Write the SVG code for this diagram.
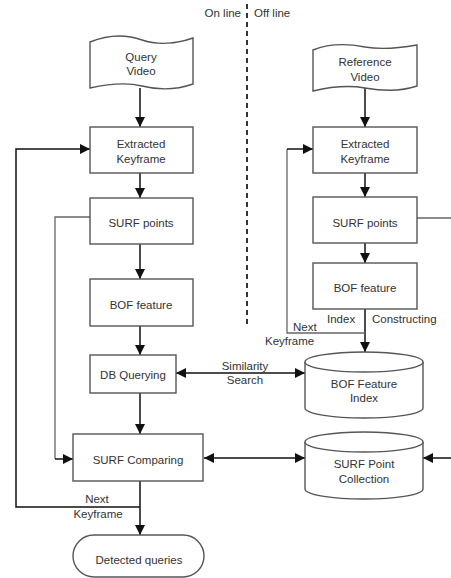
<svg xmlns="http://www.w3.org/2000/svg" width="451" height="578" viewBox="0 0 451 578">
<defs>
<style>
.box{fill:#fff;stroke:#555;stroke-width:1.4}
.thin{fill:none;stroke:#666;stroke-width:1.3}
.arr{fill:none;stroke:#111;stroke-width:1.5;marker-end:url(#ah)}
.t{font-family:"Liberation Sans",Arial,sans-serif;font-size:11.5px;fill:#333;text-anchor:middle}
.l{font-family:"Liberation Sans",Arial,sans-serif;font-size:11.5px;fill:#333}
</style>
<marker id="ah" viewBox="0 0 10 10" refX="10" refY="5" markerWidth="10" markerHeight="10" markerUnits="userSpaceOnUse" orient="auto-start-reverse">
<path d="M0,0 L10,5 L0,10 Z" fill="#111"/>
</marker>
</defs>
<rect width="451" height="578" fill="#fff"/>

<g id="divider">
<line x1="247" y1="4" x2="247" y2="325" stroke="#333" stroke-width="2" stroke-dasharray="5,4"/>
<text class="l" x="241" y="17" text-anchor="end">On line</text>
<text class="l" x="254" y="17">Off line</text>
</g>

<g id="connectors">
<line class="arr" x1="140" y1="88" x2="140" y2="127"/>
<line class="arr" x1="140" y1="173" x2="140" y2="198"/>
<line class="arr" x1="140" y1="244" x2="140" y2="279"/>
<line class="arr" x1="140" y1="326" x2="140" y2="355"/>
<line class="arr" x1="140" y1="393" x2="140" y2="434"/>
<line class="arr" x1="140" y1="481" x2="140" y2="535"/>
<polyline class="arr" points="140,507 16,507 16,149 90,149"/>
<polyline class="thin" points="90,217 55,217 55,459"/>
<line class="arr" x1="55" y1="459" x2="73" y2="459"/>
<line class="arr" x1="176" y1="373" x2="305" y2="373" style="marker-start:url(#ah)"/>
<line class="arr" x1="204" y1="458" x2="305" y2="458" style="marker-start:url(#ah)"/>
<line class="arr" x1="365" y1="88" x2="365" y2="127"/>
<line class="arr" x1="365" y1="173" x2="365" y2="197"/>
<line class="arr" x1="365" y1="243" x2="365" y2="263"/>
<line class="arr" x1="365" y1="309" x2="365" y2="352"/>
<polyline class="thin" points="365,333 287,333 287,149"/>
<line class="arr" x1="287" y1="149" x2="313" y2="149"/>
<line class="thin" x1="417" y1="218" x2="451" y2="218"/>
<line class="arr" x1="451" y1="458" x2="423" y2="458"/>
<text class="t" x="97" y="503">Next</text>
<text class="t" x="98" y="518">Keyframe</text>
<text class="t" x="245" y="370">Similarity</text>
<text class="t" x="245" y="384">Search</text>
<text class="l" x="327" y="323">Index</text>
<text class="l" x="372" y="323">Constructing</text>
<text class="l" x="293" y="331">Next</text>
<text class="l" x="265" y="345">Keyframe</text>
</g>

<g id="query-video">
<path class="box" d="M90,42 C110,34 128,35 142,40 C157,45 176,44 193,38 L193,84 C176,90 158,90 142,86 C126,82 108,84 90,88 Z"/>
<text class="t" x="141" y="61">Query</text>
<text class="t" x="141" y="75">Video</text>
</g>
<g id="extracted-keyframe-q">
<rect class="box" x="90" y="127" width="103" height="46"/>
<text class="t" x="141" y="148">Extracted</text>
<text class="t" x="141" y="163">Keyframe</text>
</g>
<g id="surf-points-q">
<rect class="box" x="90" y="198" width="103" height="46"/>
<text class="t" x="141" y="227">SURF points</text>
</g>
<g id="bof-feature-q">
<rect class="box" x="90" y="279" width="103" height="47"/>
<text class="t" x="141" y="309">BOF feature</text>
</g>
<g id="db-querying">
<rect class="box" x="90" y="355" width="86" height="38"/>
<text class="t" x="133" y="379">DB Querying</text>
</g>
<g id="surf-comparing">
<rect class="box" x="73" y="434" width="130" height="47"/>
<text class="t" x="138" y="464">SURF Comparing</text>
</g>
<g id="detected-queries">
<rect class="box" x="73" y="535" width="131" height="42" rx="21"/>
<text class="t" x="139" y="564">Detected queries</text>
</g>

<g id="reference-video">
<path class="box" d="M313,50 C330,43 350,44 365,47 C382,50 400,48 417,45 L417,86 C400,92 383,91 365,88 C348,85 330,87 313,91 Z"/>
<text class="t" x="365" y="66">Reference</text>
<text class="t" x="365" y="81">Video</text>
</g>
<g id="extracted-keyframe-r">
<rect class="box" x="313" y="127" width="104" height="46"/>
<text class="t" x="365" y="148">Extracted</text>
<text class="t" x="365" y="163">Keyframe</text>
</g>
<g id="surf-points-r">
<rect class="box" x="313" y="197" width="104" height="46"/>
<text class="t" x="365" y="227">SURF points</text>
</g>
<g id="bof-feature-r">
<rect class="box" x="313" y="263" width="104" height="46"/>
<text class="t" x="365" y="292">BOF feature</text>
</g>
<g id="bof-feature-index">
<path class="box" d="M305,362 A59,10 0 0 1 423,362 L423,408 A59,10 0 0 1 305,408 Z"/>
<path class="box" d="M305,362 A59,10 0 0 0 423,362"/>
<text class="t" x="364" y="388">BOF Feature</text>
<text class="t" x="364" y="402">Index</text>
</g>
<g id="surf-point-collection">
<path class="box" d="M305,442 A59,10 0 0 1 423,442 L423,489 A59,10 0 0 1 305,489 Z"/>
<path class="box" d="M305,442 A59,10 0 0 0 423,442"/>
<text class="t" x="364" y="468">SURF Point</text>
<text class="t" x="364" y="483">Collection</text>
</g>
</svg>
